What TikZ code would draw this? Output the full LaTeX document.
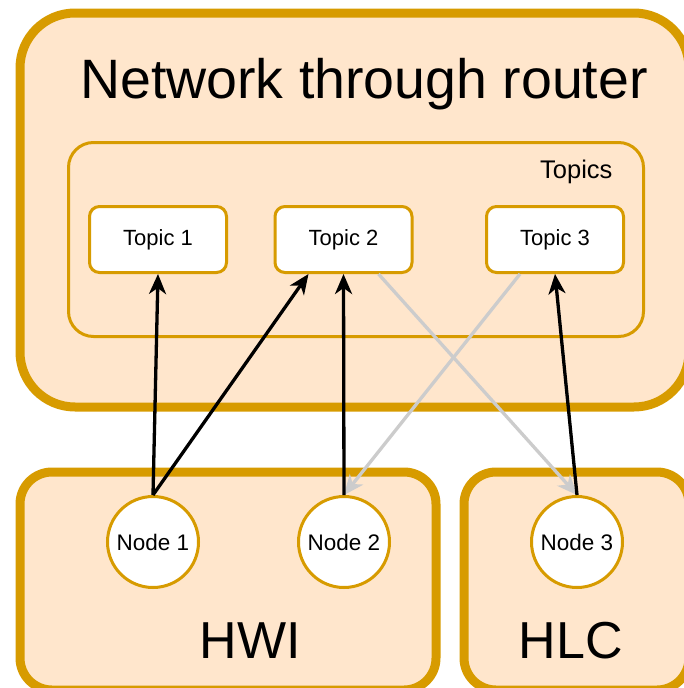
\documentclass[tikz,border=0pt]{standalone}
\usepackage{fontspec}
\setmainfont{Liberation Sans}
\usetikzlibrary{arrows.meta, calc}
\definecolor{boxFill}{HTML}{FFE6CC}
\definecolor{boxLine}{HTML}{D79B00}
\definecolor{linkGray}{HTML}{CCCCCC}

\begin{document}
\begin{tikzpicture}[
    x=1pt, y=-1pt,
    >={Stealth[length=20pt, width=17pt, inset=6pt]},
    group box/.style={draw=boxLine, fill=boxFill, line width=9pt,
        rounded corners=#1, inner sep=0pt},
    inner box/.style={draw=boxLine, fill=boxFill, line width=3pt,
        rounded corners=25pt, inner sep=0pt},
    topic box/.style={draw=boxLine, fill=white, line width=3pt,
        rounded corners=10pt, inner sep=0pt,
        minimum width=137pt, minimum height=66pt,
        font=\fontsize{22}{25}\selectfont},
    ros node/.style={circle, draw=boxLine, fill=white, line width=3pt,
        inner sep=0pt, minimum size=91pt,
        font=\fontsize{22.5}{25}\selectfont},
    big label/.style={anchor=base, font=\fontsize{52}{60}\selectfont},
    link/.style={->, line width=3.3pt, black},
    gray link/.style={link, linkGray},
]

% ---- layout parameters ----
\def\yTopic{239.5}    % y of topic boxes
\def\yNode{542}       % y of node circles

\useasboundingbox (0,0) rectangle (684,688);

% ---- group boxes ----
\node[group box=55pt, minimum width=669pt, minimum height=394pt]
    (router) at (354.5,210) {};
\node[group box=32pt, minimum width=416pt, minimum height=218pt]
    (hwi) at (228,581) {};
\node[group box=32pt, minimum width=225pt, minimum height=218pt]
    (hlc) at (576.5,581) {};

\node[anchor=base, font=\fontsize{55.5}{60}\selectfont]
    (title) at (364,98) {Network through router};

% ---- topics ----
\node[inner box, minimum width=575pt, minimum height=194pt]
    (topics) at (356,\yTopic) {};
\node[anchor=base east, font=\fontsize{25.5}{28}\selectfont]
    (topicsLabel) at (616,178) {Topics};

\node[topic box] (t1) at (158,\yTopic)   {Topic 1};
\node[topic box] (t2) at (343.5,\yTopic) {Topic 2};
\node[topic box] (t3) at (555,\yTopic)   {Topic 3};

% ---- nodes ----
\node[ros node] (n1) at (153,\yNode) {Node 1};
\node[ros node] (n2) at (344,\yNode) {Node 2};
\node[ros node] (n3) at (577,\yNode) {Node 3};

\node[big label] (hwiLabel) at (250,658) {HWI};
\node[big label] (hlcLabel) at (571,658) {HLC};

% ---- subscriptions (gray) ----
\draw[gray link] ($(t2.south west)!0.75!(t2.south east)$) -- (n3.north);
\draw[gray link] ($(t3.south west)!0.25!(t3.south east)$) -- (n2.north);

% ---- publications (black) ----
\draw[link] (n1.north) -- (t1.south);
\draw[link] (n1.north) -- ($(t2.south west)!0.25!(t2.south east)$);
\draw[link] (n2.north) -- (t2.south);
\draw[link] (n3.north) -- (t3.south);

\end{tikzpicture}
\end{document}
